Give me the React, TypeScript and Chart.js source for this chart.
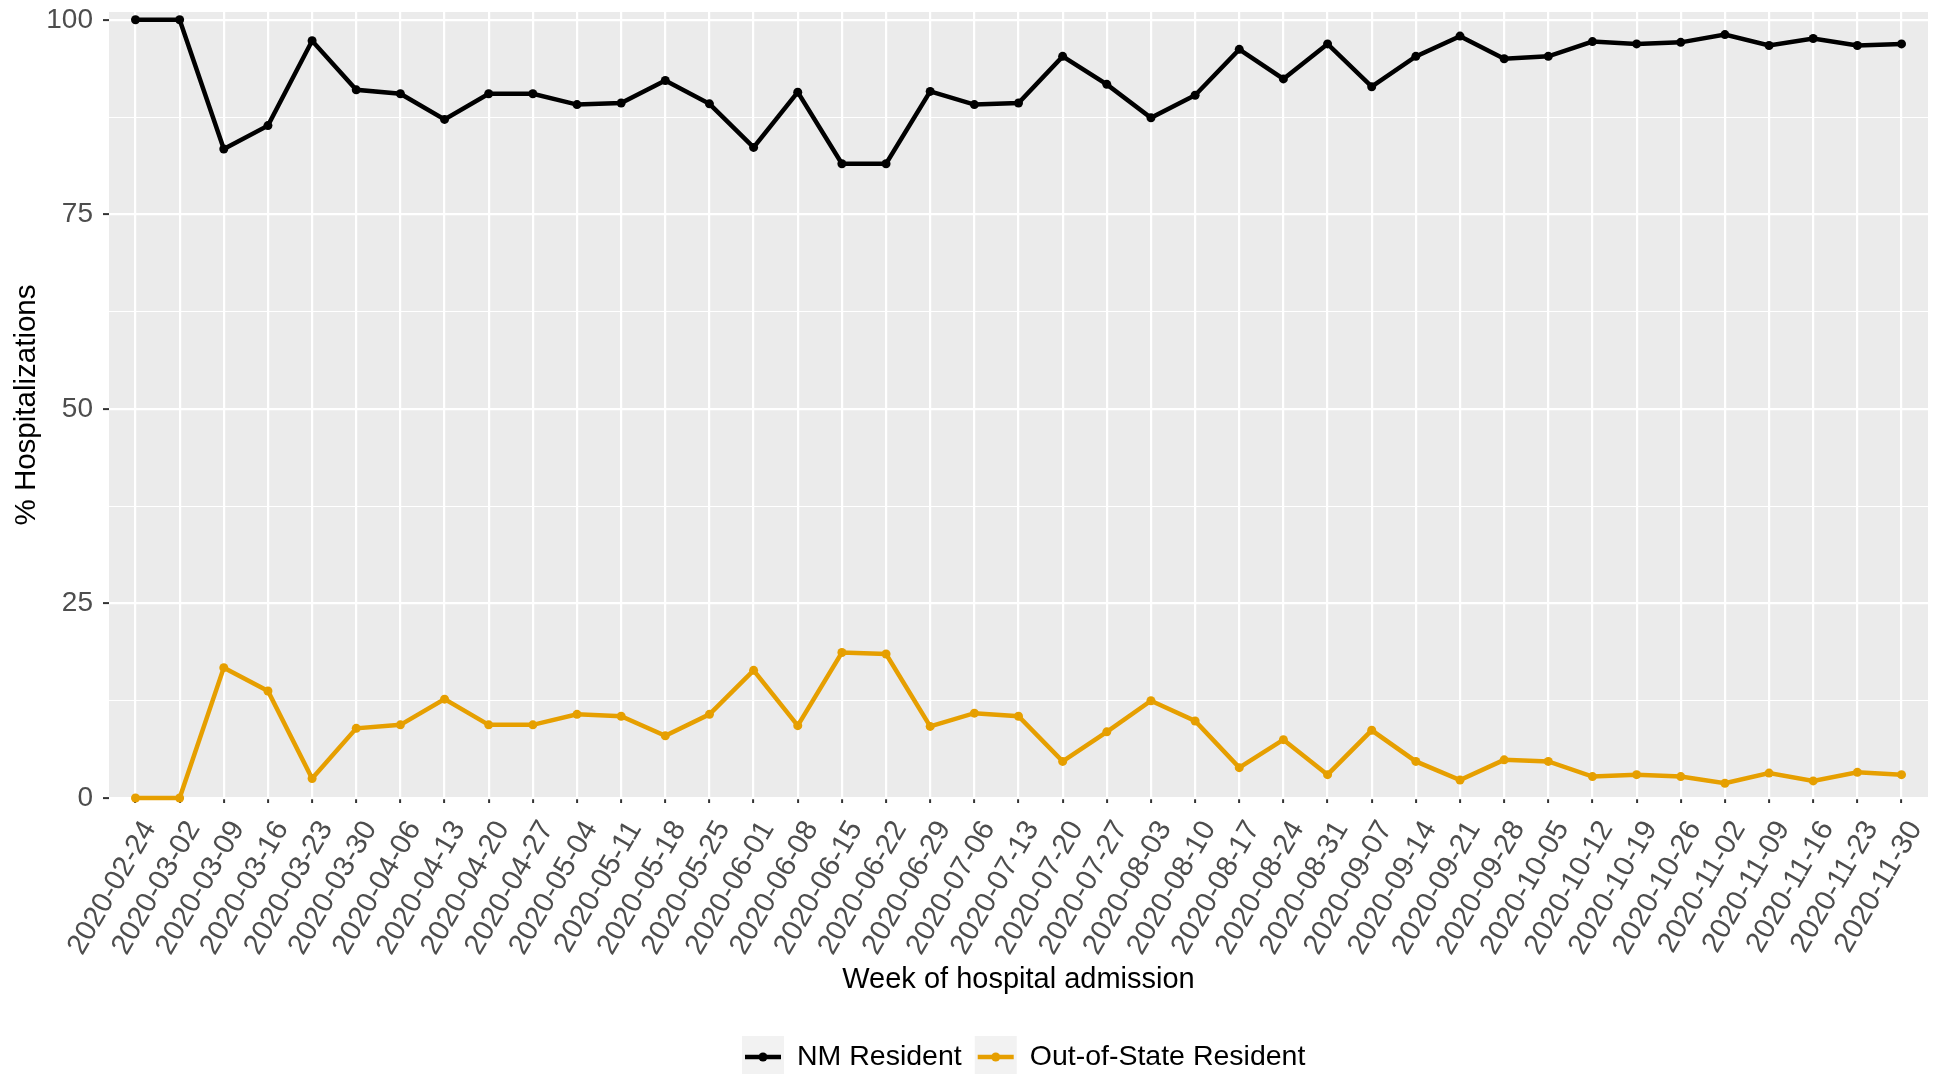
import React, { useEffect, useRef } from "react";
import { Chart, registerables } from "chart.js";

Chart.register(...registerables);

const weeks = [
  "2020-02-24", "2020-03-02", "2020-03-09", "2020-03-16", "2020-03-23", "2020-03-30",
  "2020-04-06", "2020-04-13", "2020-04-20", "2020-04-27", "2020-05-04", "2020-05-11",
  "2020-05-18", "2020-05-25", "2020-06-01", "2020-06-08", "2020-06-15", "2020-06-22",
  "2020-06-29", "2020-07-06", "2020-07-13", "2020-07-20", "2020-07-27", "2020-08-03",
  "2020-08-10", "2020-08-17", "2020-08-24", "2020-08-31", "2020-09-07", "2020-09-14",
  "2020-09-21", "2020-09-28", "2020-10-05", "2020-10-12", "2020-10-19", "2020-10-26",
  "2020-11-02", "2020-11-09", "2020-11-16", "2020-11-23", "2020-11-30",
];

const nmResident = [
  100, 100, 83.4, 86.4, 97.3, 91.0, 90.5, 87.2, 90.5, 90.5, 89.1, 89.3, 92.2, 89.2,
  83.6, 90.7, 81.5, 81.5, 90.8, 89.1, 89.3, 95.3, 91.7, 87.4, 90.3, 96.2, 92.4, 96.9,
  91.4, 95.3, 97.9, 95.0, 95.3, 97.2, 96.9, 97.1, 98.1, 96.7, 97.6, 96.7, 96.9,
];

const outOfState = [
  0, 0, 16.75, 13.75, 2.5, 8.95, 9.4, 12.7, 9.4, 9.4, 10.75, 10.5, 8.0, 10.75,
  16.4, 9.3, 18.7, 18.5, 9.2, 10.9, 10.5, 4.7, 8.5, 12.5, 9.9, 3.9, 7.5, 3.0,
  8.7, 4.7, 2.3, 4.9, 4.7, 2.75, 3.0, 2.75, 1.9, 3.2, 2.2, 3.3, 3.0,
];

const seriesNames = ["NM Resident", "Out-of-State Resident"];
const seriesColors = ["#000000", "#E69F00"];
const yMajorTicks = [0, 25, 50, 75, 100];
const yMinorTicks = [12.5, 37.5, 62.5, 87.5];

const FONT = "'Liberation Sans', Arial, sans-serif";

const panelPlugin = {
  id: "panelBg",
  beforeDraw(chart: any) {
    const { ctx, chartArea } = chart;
    ctx.save();
    ctx.fillStyle = "#EBEBEB";
    ctx.fillRect(chartArea.left, chartArea.top, chartArea.right - chartArea.left, chartArea.bottom - chartArea.top);
    ctx.restore();
  },
};

const legendPlugin = {
  id: "ggLegend",
  afterDraw(chart: any) {
    const { ctx } = chart;
    ctx.save();
    ctx.font = `28.5px ${FONT}`;
    const keySize = 42;
    const keyTop = 1036;
    const cy = keyTop + keySize / 2;
    let x = 742;
    chart.data.datasets.forEach((ds: any) => {
      ctx.fillStyle = "#F2F2F2";
      ctx.fillRect(x, keyTop, keySize, keySize);
      ctx.strokeStyle = ds.borderColor;
      ctx.lineWidth = 4.5;
      ctx.beginPath();
      ctx.moveTo(x + 3, cy);
      ctx.lineTo(x + keySize - 3, cy);
      ctx.stroke();
      ctx.fillStyle = ds.borderColor;
      ctx.beginPath();
      ctx.arc(x + keySize / 2, cy, 4.5, 0, Math.PI * 2);
      ctx.fill();
      ctx.fillStyle = "#000000";
      ctx.textBaseline = "middle";
      ctx.textAlign = "left";
      const tx = x + keySize + 13;
      ctx.fillText(ds.label, tx, cy);
      x = tx + ctx.measureText(ds.label).width + 13;
    });
    ctx.restore();
  },
};

export default function App() {
  const ref = useRef<HTMLCanvasElement | null>(null);

  useEffect(() => {
    if (!ref.current) return;
    const mkDs = (label: string, values: number[], color: string) => ({
      label,
      data: values.map((v, i) => ({ x: i, y: v })),
      borderColor: color,
      backgroundColor: color,
      borderWidth: 4.5,
      pointRadius: 4.5,
      pointHoverRadius: 4.5,
      pointBorderWidth: 0,
      tension: 0,
      clip: false as any,
    });
    const chart = new Chart(ref.current, {
      type: "line",
      data: {
        datasets: [
          mkDs(seriesNames[0], nmResident, seriesColors[0]),
          mkDs(seriesNames[1], outOfState, seriesColors[1]),
        ],
      },
      options: {
        animation: false,
        responsive: false,
        devicePixelRatio: 1,
        layout: { padding: { left: 0, right: 14, top: 12, bottom: 0 } },
        plugins: {
          legend: { display: false },
          tooltip: { enabled: false },
        },
        scales: {
          x: {
            type: "linear",
            min: -0.6,
            max: weeks.length - 1 + 0.6,
            afterBuildTicks: (scale: any) => {
              scale.ticks = weeks.map((_, i) => ({ value: i }));
            },
            afterFit: (scale: any) => {
              scale.height = 276;
              scale.paddingLeft = 0;
              scale.paddingRight = 0;
            },
            border: { display: false },
            grid: {
              color: "#FFFFFF",
              lineWidth: 2.2,
              tickColor: "#333333",
              tickLength: 5,
              tickWidth: 2,
            },
            ticks: {
              autoSkip: false,
              minRotation: 60,
              maxRotation: 60,
              padding: 12,
              labelOffset: 14,
              color: "#4D4D4D",
              font: { family: FONT, size: 29 },
              callback: (v: any) => weeks[Math.round(Number(v))] ?? "",
            },
            title: {
              display: true,
              text: "Week of hospital admission",
              color: "#000000",
              font: { family: FONT, size: 29 },
              padding: { top: 0, bottom: 77 },
            },
          },
          y: {
            type: "linear",
            min: 0,
            max: 101,
            afterBuildTicks: (scale: any) => {
              scale.ticks = [...yMajorTicks, ...yMinorTicks]
                .sort((a, b) => a - b)
                .map((v) => ({ value: v }));
            },
            afterFit: (scale: any) => {
              scale.width = 109;
              scale.paddingTop = 0;
              scale.paddingBottom = 0;
            },
            border: { display: false },
            grid: {
              color: "#FFFFFF",
              lineWidth: (c: any) => (yMajorTicks.includes(c.tick?.value) ? 2.2 : 1.1),
              tickColor: (c: any) => (yMajorTicks.includes(c.tick?.value) ? "#333333" : "rgba(0,0,0,0)"),
              tickLength: 6,
              tickWidth: 2,
            },
            ticks: {
              padding: 10,
              color: "#4D4D4D",
              font: { family: FONT, size: 28 },
              callback: (v: any) => (yMajorTicks.includes(Number(v)) ? String(v) : ""),
            },
            title: {
              display: true,
              text: "% Hospitalizations",
              color: "#000000",
              font: { family: FONT, size: 29.5 },
              padding: { top: 9, bottom: 0 },
            },
          },
        },
      },
      plugins: [panelPlugin, legendPlugin],
    });
    return () => chart.destroy();
  }, []);

  return (
    <div style={{ position: "absolute", left: 0, top: 0, width: 1942, height: 1074, background: "#FFFFFF" }}>
      <canvas ref={ref} width={1942} height={1074} style={{ display: "block" }} />
    </div>
  );
}
